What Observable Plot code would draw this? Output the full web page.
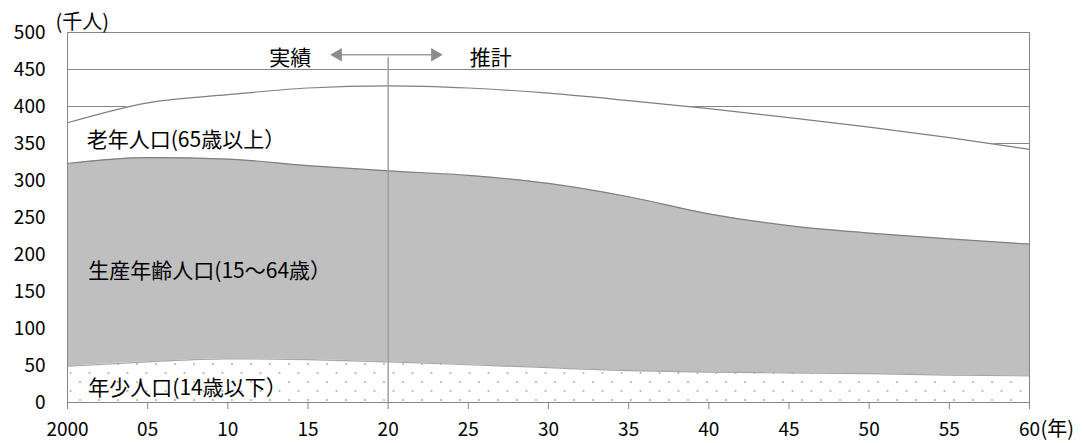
<!DOCTYPE html>
<html>
<head>
<meta charset="utf-8">
<script src="https://cdn.jsdelivr.net/npm/d3@7"></script>
<script src="https://cdn.jsdelivr.net/npm/@observablehq/plot@0.6"></script>
<style>
  html, body { margin: 0; padding: 0; background: #fff; }
  #chart svg { display: block; }
</style>
</head>
<body>
<div id="chart"></div>
<script>
// ---- data (thousand persons) ----
const years = [2000, 2005, 2010, 2015, 2020, 2025, 2030, 2035, 2040, 2045, 2050, 2055, 2060];
const yearLabels = ["2000", "05", "10", "15", "20", "25", "30", "35", "40", "45", "50", "55", "60"];
const child   = [49, 55, 59, 58, 55, 51, 47, 43, 41, 40, 39, 37, 36];          // 年少人口(14歳以下)
const working = [274, 276, 270, 262, 258, 256, 249, 235, 214, 199, 190, 184, 178]; // 生産年齢人口(15～64歳)
const elderly = [55, 74, 87, 105, 115, 118, 122, 130, 142, 146, 143, 137, 128];     // 老年人口(65歳以上)
const groups = ["年少人口", "生産年齢人口", "老年人口"];
const yTicks = [0, 50, 100, 150, 200, 250, 300, 350, 400, 450, 500];

const series = [child, working, elderly];
const rows = [];
groups.forEach((g, gi) => years.forEach((yr, i) => rows.push({ year: yr, group: g, value: series[gi][i] })));

const fills = { "年少人口": "url(#dots)", "生産年齢人口": "#bfbfbf", "老年人口": "#ffffff" };
const lineColors = { "年少人口": "#a6a6a6", "生産年齢人口": "#7f7f7f", "老年人口": "#7f7f7f" };

const jp = "'Noto Sans CJK JP', 'Noto Sans', sans-serif";
const curve = "monotone-x";
const stackOpts = { x: "year", y: "value", z: "group", order: groups };

const plot = Plot.plot({
  width: 1083,
  height: 443,
  marginLeft: 67,
  marginRight: 54,
  marginTop: 32,
  marginBottom: 41,
  style: { fontFamily: jp, fontSize: "19px", color: "#000", background: "#fff" },
  x: { domain: [2000, 2060], label: null },
  y: { domain: [0, 500], label: null },
  marks: [
    Plot.ruleY(yTicks, { stroke: "#868686", strokeWidth: 1 }),
    Plot.areaY(rows, Plot.stackY({ ...stackOpts, fill: d => fills[d.group], curve })),
    Plot.lineY(rows, Plot.stackY2({ ...stackOpts, stroke: d => lineColors[d.group], strokeWidth: 1.2, curve })),
    Plot.frame({ stroke: "#868686", strokeWidth: 1 }),
    Plot.axisX({ ticks: years, tickFormat: d => yearLabels[years.indexOf(d)], tickSize: 7, tickPadding: 13, stroke: "#868686", fontSize: 19 }),
    Plot.axisY({ ticks: yTicks, tickSize: 0, tickPadding: 22, fontSize: 19 }),
    // (年) unit after last x label, (千人) unit above y axis
    Plot.text(["(年)"], { x: 2060, y: 0, dx: 11, dy: 27, textAnchor: "start", fontSize: 20 }),
    Plot.text(["(千人)"], { x: 2000, y: 500, dx: -12, dy: -10, textAnchor: "start", fontSize: 20 }),
    // boundary between actual and projection
    Plot.ruleX([2020], { y1: 0, y2: 466, stroke: "#a0a0a0", strokeWidth: 1.5 }),
    Plot.ruleY([470], { x1: 2017, x2: 2023, stroke: "#a0a0a0", strokeWidth: 1.5 }),
    Plot.dot([2016.87], { x: d => d, y: 470, symbol: "triangle", r: 5, rotate: -90, fill: "#8c8c8c", stroke: "none" }),
    Plot.dot([2022.92], { x: d => d, y: 470, symbol: "triangle", r: 5, rotate: 90, fill: "#8c8c8c", stroke: "none" }),
    Plot.text(["実績"], { x: 2013.9, y: 465, fontSize: 21 }),
    Plot.text(["推計"], { x: 2026.4, y: 465, fontSize: 21 }),
    // series labels
    Plot.text(["老年人口(65歳以上）"], { x: 2001.2, y: 354, textAnchor: "start", fontSize: 21 }),
    Plot.text(["生産年齢人口(15～64歳）"], { x: 2001.3, y: 178, textAnchor: "start", fontSize: 21 }),
    Plot.text(["年少人口(14歳以下）"], { x: 2001.3, y: 19, textAnchor: "start", fontSize: 21 })
  ]
});

// dotted pattern for the youngest group
const svg = d3.select(plot);
const defs = svg.insert("defs", ":first-child");
const pat = defs.append("pattern").attr("id", "dots").attr("patternUnits", "userSpaceOnUse")
  .attr("width", 19).attr("height", 18);
pat.append("rect").attr("width", 19).attr("height", 18).attr("fill", "#ffffff");
pat.append("circle").attr("cx", 4).attr("cy", 4).attr("r", 1.1).attr("fill", "#b4b4b4");
pat.append("circle").attr("cx", 13.5).attr("cy", 13).attr("r", 1.1).attr("fill", "#b4b4b4");

document.getElementById("chart").appendChild(plot);
</script>
</body>
</html>
